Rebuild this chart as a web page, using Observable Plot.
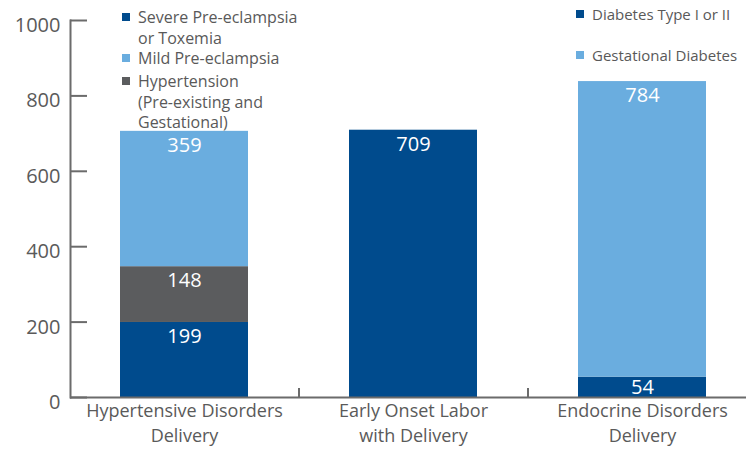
<!DOCTYPE html>
<html>
<head>
<meta charset="utf-8">
<script src="https://cdn.jsdelivr.net/npm/d3@7"></script>
<script src="https://cdn.jsdelivr.net/npm/@observablehq/plot@0.6"></script>
<style>
  html, body { margin: 0; padding: 0; background: #fff; }
  #wrap { position: relative; width: 746px; height: 450px; font-family: "Open Sans", sans-serif; color: #595959; }
  .leg { position: absolute; font-size: 16px; line-height: 20.5px; white-space: nowrap; }
  .leg.r { font-size: 15px; }
  .sw { position: absolute; width: 8px; height: 8px; }
</style>
</head>
<body>
<div id="wrap"></div>
<script>
// Categories (x axis)
const categories = ["Hypertensive Disorders Delivery", "Early Onset Labor with Delivery", "Endocrine Disorders Delivery"];
const categoryLabels = ["Hypertensive Disorders\nDelivery", "Early Onset Labor\nwith Delivery", "Endocrine Disorders\nDelivery"];

// Series (stack order bottom -> top)
const seriesNames = ["Severe Pre-eclampsia or Toxemia", "Hypertension (Pre-existing and Gestational)", "Mild Pre-eclampsia", "Early Onset Labor", "Diabetes Type I or II", "Gestational Diabetes"];
const seriesColors = ["#004b8d", "#5b5c5e", "#6aaddf", "#004b8d", "#004b8d", "#6aaddf"];
const severePreeclampsia = [199, 0, 0];
const hypertension      = [148, 0, 0];
const mildPreeclampsia  = [359, 0, 0];
const earlyOnsetLabor   = [0, 709, 0];
const diabetesType      = [0, 0, 54];
const gestationalDiab   = [0, 0, 784];
const seriesValues = [severePreeclampsia, hypertension, mildPreeclampsia, earlyOnsetLabor, diabetesType, gestationalDiab];

// Y axis ticks
const yTicks = [0, 200, 400, 600, 800, 1000];

// Legends
const legendLeft = [
  {label: "Severe Pre-eclampsia\nor Toxemia", color: "#004b8d"},
  {label: "Mild Pre-eclampsia", color: "#6aaddf"},
  {label: "Hypertension\n(Pre-existing and\nGestational)", color: "#5b5c5e"}
];
const legendRight = [
  {label: "Diabetes Type I or II", color: "#004b8d"},
  {label: "Gestational Diabetes", color: "#6aaddf"}
];

// Build rows
const rows = [];
categories.forEach((c, ci) => {
  let base = 0;
  seriesNames.forEach((s, si) => {
    const v = seriesValues[si][ci];
    if (v > 0) {
      rows.push({cat: c, series: s, value: v, bottom: base, top: base + v, mid: base + v / 2});
      base += v;
    }
  });
});

const W = 746, H = 450;
const xRange = [70, 757];
const step = (xRange[1] - xRange[0]) / categories.length;
const textColor = "#5a5a5a";
const axisColor = "#6b6b6b";
const font = "'Open Sans', sans-serif";

const chart = Plot.plot({
  width: W,
  height: H,
  marginLeft: 70,
  marginRight: 0,
  marginTop: 20,
  marginBottom: 53,
  style: {fontFamily: font, color: textColor, background: "#fff"},
  x: {domain: categories, range: xRange, paddingInner: 0.44, paddingOuter: 0.22, label: null},
  y: {domain: [0, 1000], label: null},
  color: {domain: seriesNames, range: seriesColors},
  marks: [
    Plot.barY(rows, {x: "cat", y1: "bottom", y2: "top", fill: "series"}),
    Plot.text(rows.filter(d => d.value >= 100), {x: "cat", y: "top", text: d => String(d.value), dy: 14, fill: "white", fontSize: 20}),
    Plot.text(rows.filter(d => d.value < 100), {x: "cat", y: "mid", text: d => String(d.value), fill: "white", fontSize: 20}),
    Plot.ruleY([0], {stroke: axisColor, strokeWidth: 2}),
    Plot.ruleX(categories.slice(1), {x: d => d, y1: 0, y2: 24, dx: -step / 2, stroke: axisColor, strokeWidth: 2}),
    Plot.axisY({ticks: yTicks, tickSize: 0, tickPadding: 10, fontSize: 20, dy: 5, label: null, tickFormat: d => String(d), color: textColor}),
    Plot.axisY({ticks: yTicks, tickSize: 17, tickPadding: 0, dx: 17, tickFormat: () => "", stroke: axisColor, strokeWidth: 2, label: null}),
    Plot.frame({anchor: "left", stroke: axisColor, strokeWidth: 2}),
    Plot.axisX({tickSize: 0, tickPadding: 2, fontSize: 18, lineHeight: 1.38, tickFormat: d => categoryLabels[categories.indexOf(d)], label: null, color: textColor})
  ]
});

const wrap = document.getElementById("wrap");
wrap.appendChild(chart);

function addLegend(items, x, tops, cls) {
  items.forEach((it, i) => {
    const sw = document.createElement("div");
    sw.className = "sw";
    sw.style.left = x + "px";
    sw.style.top = (tops[i] + 6) + "px";
    sw.style.background = it.color;
    wrap.appendChild(sw);
    const t = document.createElement("div");
    t.className = "leg " + cls;
    t.style.left = (x + 16) + "px";
    t.style.top = tops[i] + "px";
    t.innerHTML = it.label.split("\n").join("<br>");
    wrap.appendChild(t);
  });
}
addLegend(legendLeft, 122, [7, 48, 71], "l");
addLegend(legendRight, 576, [4, 45], "r");
</script>
</body>
</html>
